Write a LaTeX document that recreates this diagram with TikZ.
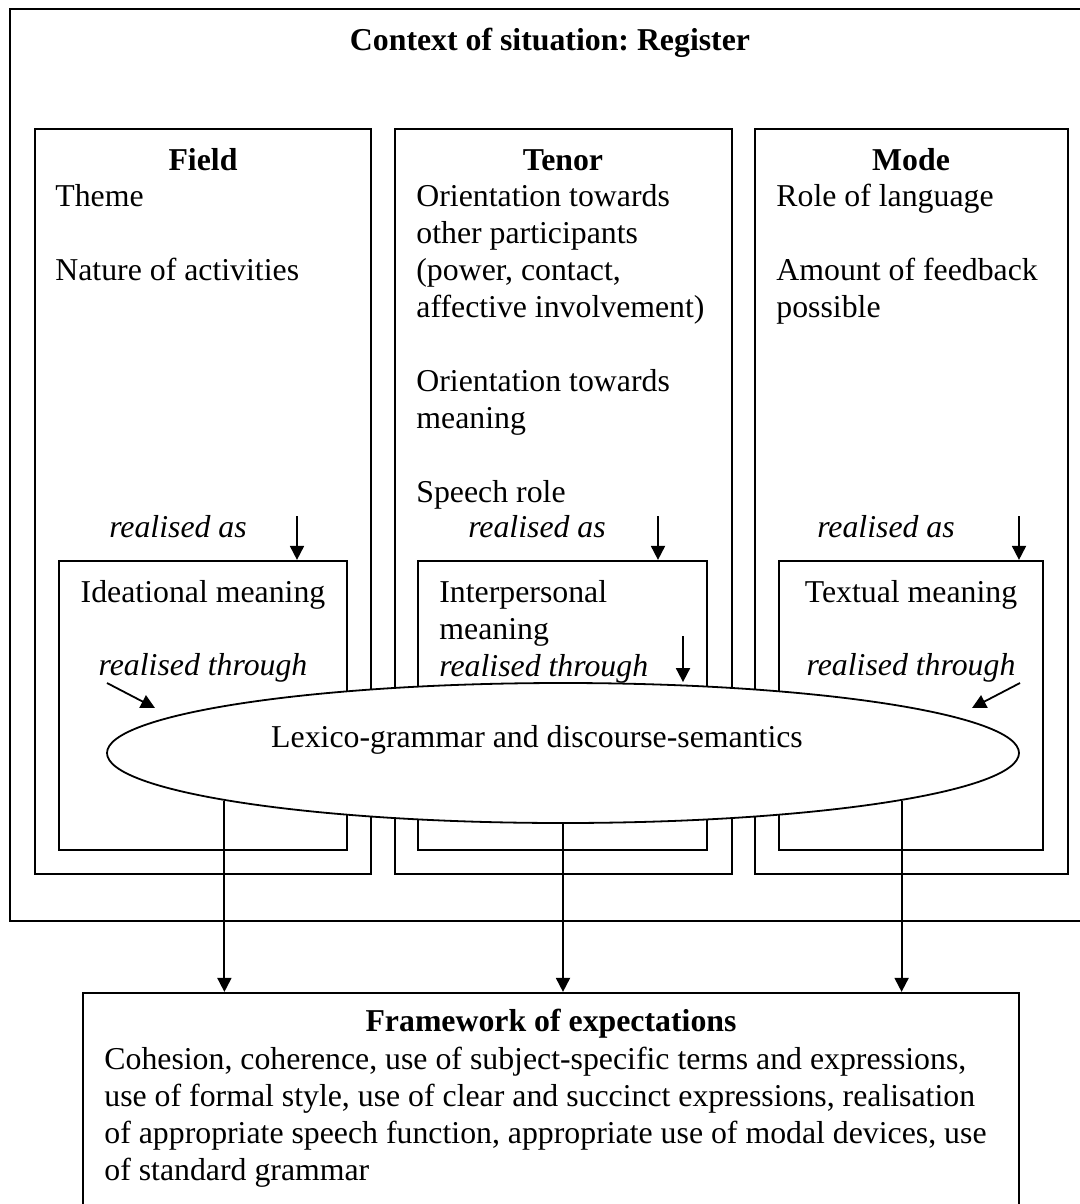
\documentclass[tikz,border=0pt]{standalone}
\usepackage{fontspec}
\setmainfont{Liberation Serif}
\usetikzlibrary{arrows.meta,shapes.geometric,fit}
\frenchspacing

\newcommand\diagfont{\fontsize{15.9}{18.5}\selectfont}

\tikzset{
  box/.style={draw,line width=1.1pt,inner sep=0pt},
  heading/.style={anchor=base,inner sep=0pt,font=\diagfont\bfseries},
  plain/.style={anchor=base west,align=left,inner sep=0pt,font=\diagfont},
  middle/.style={anchor=base,inner sep=0pt,font=\diagfont},
  note/.style={anchor=base,inner sep=0pt,font=\diagfont\itshape},
  arr/.style={-{Triangle[length=7pt,width=7pt]},line width=0.9pt}
}

\begin{document}
\begin{tikzpicture}[x=0.5pt,y=-0.5pt]

        \useasboundingbox (0,0) rectangle (1080,1204);
        \clip (0,0) rectangle (1080,1204);

        \begin{scope}[every node/.style={box}]
          \node[fit={(10,9) (1086,921)}]    (register) {};
          \node[fit={(35,129) (371,874)}]   (field) {};
          \node[fit={(395,129) (732,874)}]  (tenor) {};
          \node[fit={(755,129) (1068,874)}] (mode) {};
          \node[fit={(59,561) (347,850)}]   (ideational) {};
          \node[fit={(418,561) (707,850)}]  (interpersonal) {};
          \node[fit={(779,561) (1043,850)}] (textual) {};
          \node[fit={(83,993) (1019,1208)}] (expect) {};
        \end{scope}

        \node[draw,ellipse,fill=white,line width=0.9pt,inner sep=0pt,
              minimum width=456pt,minimum height=70pt] (lex) at (563,753) {};
        \node[middle] (lextext) at (537,747) {Lexico-grammar and discourse-semantics};

        \node[heading] (registertitle) at (550,51) {Context of situation: Register};
        \node[heading] (fieldtitle) at (203,170) {Field};
        \node[heading] (tenortitle) at (563,170) {Tenor};
        \node[heading] (modetitle)  at (911,170) {Mode};

        \node[plain] (fieldtext) at (55,280) {Theme\\[18.5pt]Nature of activities};
        \node[plain] (tenortext) at (416,502) {Orientation towards\\other participants\\(power, contact,\\affective involvement)\\[18.5pt]Orientation towards\\meaning\\[18.5pt]Speech role};
        \node[plain] (modetext) at (776,317) {Role of language\\[18.5pt]Amount of feedback\\possible};

        \node[note] (asfield) at (178,537) {realised as};
        \node[note] (astenor) at (537,537) {realised as};
        \node[note] (asmode)  at (886,537) {realised as};

        \node[middle] (ideatext) at (203,602) {Ideational meaning};
        \node[plain] (intertext) at (439,676) {Interpersonal\\meaning\\\textit{realised through}};
        \node[middle] (texttext) at (911,602) {Textual meaning};
        \node[note] (thfield) at (203,675) {realised through};
        \node[note] (thmode)  at (911,675) {realised through};

        \node[heading] (expecttitle) at (551,1031) {Framework of expectations};
        \node[plain] (expecttext) at (104,1180) {Cohesion, coherence, use of subject-specific terms and expressions,\\use of formal style, use of clear and succinct expressions, realisation\\of appropriate speech function, appropriate use of modal devices, use\\of standard grammar};

        \coordinate (fa) at (297,516);
        \coordinate (ta) at (658,516);
        \coordinate (ma) at (1019,516);
        \coordinate (fs) at (107,683);
        \coordinate (fe) at (155,708);
        \coordinate (ts) at (683,636);
        \coordinate (ms) at (1020,683);
        \coordinate (me) at (972,708);

        \begin{scope}[every path/.style={arr}]
          \draw (fa) -- (fa |- ideational.north);
          \draw (ta) -- (ta |- interpersonal.north);
          \draw (ma) -- (ma |- textual.north);
          \draw (fs) -- (fe);
          \draw (ts) -- (ts |- lex.north);
          \draw (ms) -- (me);
          \draw (lex.188) -- (lex.188 |- expect.north);
          \draw (lex.south) -- (lex.south |- expect.north);
          \draw (lex.352) -- (lex.352 |- expect.north);
        \end{scope}

      \end{tikzpicture}
\end{document}
